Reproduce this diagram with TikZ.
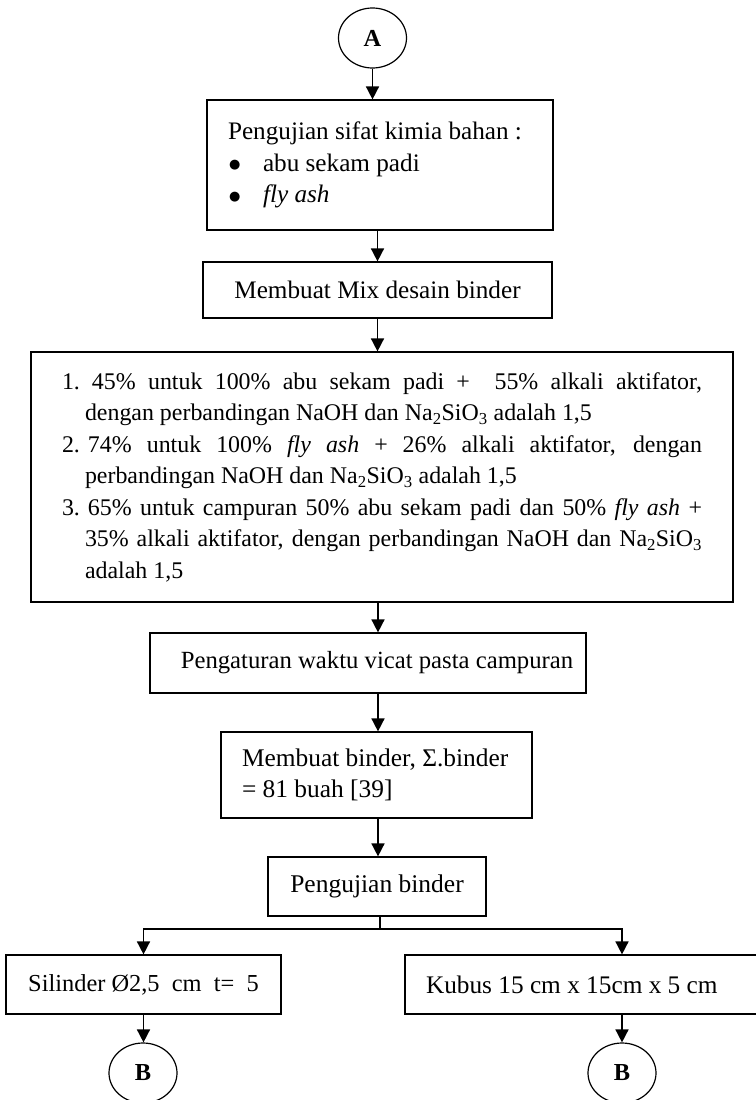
\documentclass[tikz,border=0pt]{standalone}
\usepackage{fontspec}
\setmainfont{Liberation Serif}
\newfontfamily\dejavu{DejaVu Sans}
\usetikzlibrary{arrows.meta,shapes.geometric}
\newcommand\myfs{\fontsize{24.4pt}{31.5pt}\selectfont}
\newcommand\fz[1]{\fontsize{#1}{31.5pt}\selectfont}
\newcommand\ns{\spaceskip=0pt\xspaceskip=0pt\relax}
\newcommand\bul{\makebox[35pt][l]{\hspace*{1pt}\raisebox{2.5pt}{\dejavu\fontsize{13pt}{13pt}\selectfont ●}}}
\begin{document}
\begin{tikzpicture}[x=1pt,y=-1pt,
  box/.style={draw, line width=1.2pt, rectangle, inner sep=0pt, font=\myfs},
  term/.style={draw, line width=1.2pt, ellipse, inner sep=0pt, minimum width=68pt, minimum height=60pt, font=\myfs\bfseries},
  conn/.style={line width=1.6pt},
  arr/.style={line width=1.6pt, -{Triangle[width=13pt,length=13pt]}}]
\useasboundingbox (0,0) rectangle (755,1100);

\node[term] (A) at (372.5,38) {A};

\node[box, font={\fz{25.2pt}}, text width=304pt, inner xsep=21pt, minimum height=130pt, align=left] (box1) at (380,165)
  {\ns Pengujian sifat kimia bahan :\\
   \bul abu sekam padi\\
   \bul\textit{fly ash}};

\node[box, font={\fz{25.2pt}}, minimum width=349pt, minimum height=56pt] (box2) at (377.5,290) {Membuat Mix desain binder};

\node[box, font={\fz{23.9pt}}, text width=640pt, inner xsep=31pt, minimum height=250pt, align=left] (box3) at (382,477)
  {\ns\makebox[30pt][l]{1.}\makebox[610pt][s]{45\% untuk 100\% abu sekam padi +\ \ 55\% alkali aktifator,}\\
   \hspace*{23pt}dengan perbandingan NaOH dan Na\textsubscript{2}SiO\textsubscript{3} adalah 1,5\\
   \makebox[26pt][l]{2.}\makebox[614pt][s]{74\% untuk 100\% \textit{fly ash} + 26\% alkali aktifator, dengan}\\
   \hspace*{23pt}perbandingan NaOH dan Na\textsubscript{2}SiO\textsubscript{3} adalah 1,5\\
   \makebox[26pt][l]{3.}\makebox[614pt][s]{65\% untuk campuran 50\% abu sekam padi dan 50\% \textit{fly ash} +}\\
   \hspace*{23pt}\makebox[617pt][s]{35\% alkali aktifator, dengan perbandingan NaOH dan Na\textsubscript{2}SiO\textsubscript{3}}\\
   \hspace*{23pt}adalah 1,5};

\node[box, font={\fz{24.7pt}}, minimum width=436pt, minimum height=60pt] (box4) at (368,663)
  {\hspace*{18pt}Pengaturan waktu vicat pasta campuran};

\node[box, font={\fz{25.4pt}}, text width=269pt, inner xsep=21pt, minimum height=86pt, align=left] (box5) at (376.5,775)
  {\ns Membuat binder, Σ.binder\\= 81 buah [39]};

\node[box, font={\fz{25.5pt}}, minimum width=218pt, minimum height=59pt] (box6) at (377,886.5) {Pengujian binder};

\node[box, minimum width=275pt, minimum height=59pt] (sil) at (143.5,984.5) {Silinder Ø2,5~ cm~ t=~ 5};

\node[box, font={\fz{25.3pt}}, text width=318pt, inner xsep=21pt, minimum height=59pt, align=left] (kub) at (585,984.5)
  {\ns Kubus 15 cm x 15cm x 5 cm};

\node[term] (B1) at (143,1073) {B};
\node[term] (B2) at (622,1073) {B};

\coordinate (trunk) at (378,0);
\coordinate (split) at (380,929);

\draw[arr] (A) -- (A |- box1.north);
\draw[arr] (box2.north |- box1.south) -- (box2.north);
\draw[arr] (box2.south) -- (box2.south |- box3.north);
\draw[arr] (box3.south -| trunk) -- (box4.north -| trunk);
\draw[arr] (box4.south -| trunk) -- (box5.north -| trunk);
\draw[arr] (box5.south -| trunk) -- (box6.north -| trunk);
\draw[conn] (box6.south -| split) -- (split);
\draw[arr] (split) -| (sil.north);
\draw[arr] (split) -| (kub.north -| B2);
\draw[arr] (sil.south) -- (sil.south |- B1.north);
\draw[arr] (kub.south -| B2) -- (B2.north);
\end{tikzpicture}
\end{document}
